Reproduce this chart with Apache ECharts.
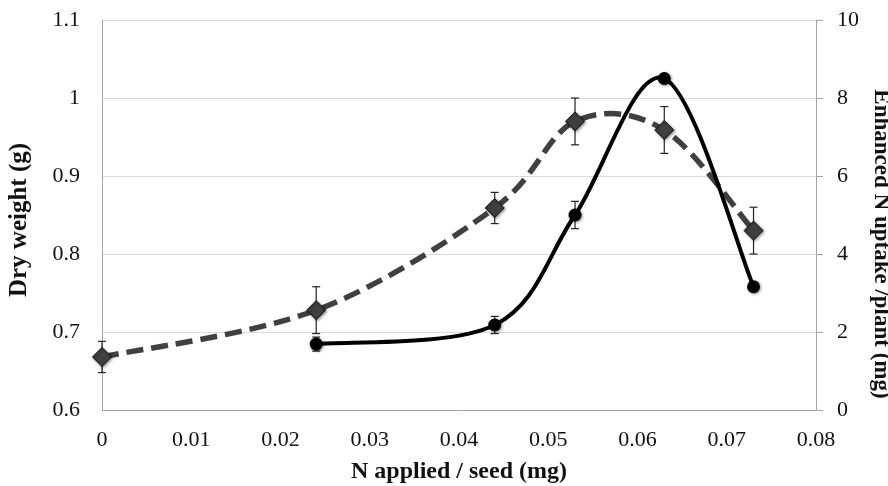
<!DOCTYPE html>
<html>
<head>
<meta charset="utf-8">
<script src="https://cdn.jsdelivr.net/npm/echarts@6/dist/echarts.min.js"></script>
<style>
  html, body { margin: 0; padding: 0; background: #fff; }
  #chart { width: 888px; height: 486px; }
</style>
</head>
<body>
<div id="chart"></div>
<script>
// N applied per seed (mg)
const nApplied = [0, 0.024, 0.044, 0.053, 0.063, 0.073];
// dry weight (g), left axis
const dryWeight = [0.668, 0.728, 0.859, 0.97, 0.959, 0.83];
const dryWeightErr = [0.02, 0.03, 0.02, 0.03, 0.03, 0.03];
// enhanced N uptake per plant (mg), right axis
const uptakeN = [0.024, 0.044, 0.053, 0.063, 0.073];
const uptake = [1.69, 2.18, 5.0, 8.5, 3.16];
const uptakeErr = [0.18, 0.22, 0.35, 0.08, 0];

const fontFam = '"Liberation Serif", "Times New Roman", serif';

function pairs(xs, ys) {
  return xs.map((x, i) => [x, ys[i]]);
}
function errData(xs, ys, es) {
  return xs.map((x, i) => [x, ys[i], es[i]]);
}

// vertical error bar with caps
function renderErr(params, api) {
  const x = api.value(0), y = api.value(1), e = api.value(2);
  if (!e) return;
  const top = api.coord([x, y + e]);
  const bot = api.coord([x, y - e]);
  const w = 4;
  const st = { stroke: '#222', lineWidth: 1.2 };
  return {
    type: 'group',
    children: [
      { type: 'line', shape: { x1: top[0], y1: top[1], x2: bot[0], y2: bot[1] }, style: st },
      { type: 'line', shape: { x1: top[0] - w, y1: top[1], x2: top[0] + w, y2: top[1] }, style: st },
      { type: 'line', shape: { x1: bot[0] - w, y1: bot[1], x2: bot[0] + w, y2: bot[1] }, style: st }
    ]
  };
}

// spreadsheet-style smoothed line (catmull-rom, may overshoot), drawn once for the whole series
function smoothCurve(xs, ys, lineStyle) {
  return function (params, api) {
    if (params.dataIndex !== 0) return;
    const p = xs.map((x, i) => api.coord([x, ys[i]]));
    let d = 'M' + p[0][0] + ' ' + p[0][1];
    for (let i = 0; i < p.length - 1; i++) {
      const p0 = p[Math.max(i - 1, 0)], p1 = p[i], p2 = p[i + 1], p3 = p[Math.min(i + 2, p.length - 1)];
      const c1x = p1[0] + (p2[0] - p0[0]) / 6, c1y = p1[1] + (p2[1] - p0[1]) / 6;
      const c2x = p2[0] - (p3[0] - p1[0]) / 6, c2y = p2[1] - (p3[1] - p1[1]) / 6;
      d += ' C' + c1x + ' ' + c1y + ' ' + c2x + ' ' + c2y + ' ' + p2[0] + ' ' + p2[1];
    }
    return {
      type: 'path',
      shape: { pathData: d },
      style: Object.assign({ fill: null }, lineStyle)
    };
  };
}

const axisLabelStyle = { color: '#111', fontFamily: fontFam, fontSize: 22 };
const nameStyle = { color: '#111', fontFamily: fontFam, fontWeight: 'bold' };

let option = {
  animation: false,
  backgroundColor: '#fff',
  grid: { left: 102, right: 72, top: 20, bottom: 76, outerBoundsMode: 'none' },
  xAxis: {
    type: 'value',
    min: 0,
    max: 0.08,
    interval: 0.01,
    name: 'N applied / seed (mg)',
    nameLocation: 'middle',
    nameGap: 50,
    nameTextStyle: Object.assign({ fontSize: 24 }, nameStyle),
    axisLine: { lineStyle: { color: '#a6a6a6', width: 1 } },
    axisTick: { show: false },
    splitLine: { show: false },
    axisLabel: Object.assign({ margin: 19 }, axisLabelStyle)
  },
  yAxis: [
    {
      type: 'value',
      min: 0.6,
      max: 1.1,
      interval: 0.1,
      name: 'Dry weight (g)',
      nameLocation: 'middle',
      nameGap: 70,
      nameTextStyle: Object.assign({ fontSize: 25, padding: [0, 10, 0, 0] }, nameStyle),
      axisLine: { show: true, lineStyle: { color: '#a6a6a6', width: 1 } },
      axisTick: { show: false },
      splitLine: { lineStyle: { color: '#d9d9d9', width: 1 } },
      axisLabel: Object.assign({ margin: 22 }, axisLabelStyle)
    },
    {
      type: 'value',
      position: 'right',
      min: 0,
      max: 10,
      interval: 2,
      name: 'Enhanced N uptake /plant (mg)',
      nameLocation: 'middle',
      nameGap: 52,
      nameRotate: -90,
      nameTextStyle: Object.assign({ fontSize: 23, padding: [0, 0, 0, 58] }, nameStyle),
      axisLine: { show: true, lineStyle: { color: '#a6a6a6', width: 1 } },
      axisTick: { show: true, length: 7, lineStyle: { color: '#a6a6a6' } },
      splitLine: { show: false },
      axisLabel: Object.assign({ margin: 21 }, axisLabelStyle)
    }
  ],
  series: [
    {
      name: 'Dry weight line',
      type: 'custom',
      yAxisIndex: 0,
      renderItem: smoothCurve(nApplied, dryWeight, {
        stroke: '#404040', lineWidth: 5.5, lineDash: [17, 8], lineCap: 'butt'
      }),
      encode: { x: 0, y: 1 },
      data: pairs(nApplied, dryWeight),
      z: 1
    },
    {
      name: 'dry weight error',
      type: 'custom',
      yAxisIndex: 0,
      renderItem: renderErr,
      encode: { x: 0, y: [1] },
      data: errData(nApplied, dryWeight, dryWeightErr),
      z: 2
    },
    {
      name: 'Dry weight',
      type: 'scatter',
      yAxisIndex: 0,
      data: pairs(nApplied, dryWeight),
      symbol: 'diamond',
      symbolSize: [19, 19],
      itemStyle: {
        color: '#3f3f3f',
        borderColor: '#111',
        borderWidth: 1,
        opacity: 1,
        shadowBlur: 3,
        shadowColor: 'rgba(0,0,0,0.45)',
        shadowOffsetX: 1,
        shadowOffsetY: 1
      },
      z: 3
    },
    {
      name: 'Uptake line',
      type: 'custom',
      yAxisIndex: 1,
      renderItem: smoothCurve(uptakeN, uptake, { stroke: '#000', lineWidth: 4 }),
      encode: { x: 0, y: 1 },
      data: pairs(uptakeN, uptake),
      z: 4
    },
    {
      name: 'uptake error',
      type: 'custom',
      yAxisIndex: 1,
      renderItem: renderErr,
      encode: { x: 0, y: [1] },
      data: errData(uptakeN, uptake, uptakeErr),
      z: 5
    },
    {
      name: 'Enhanced N uptake',
      type: 'scatter',
      yAxisIndex: 1,
      data: pairs(uptakeN, uptake),
      symbol: 'circle',
      symbolSize: 13,
      itemStyle: {
        color: '#000',
        opacity: 1,
        shadowBlur: 3,
        shadowColor: 'rgba(0,0,0,0.45)',
        shadowOffsetX: 1,
        shadowOffsetY: 1
      },
      z: 6
    }
  ]
};

var myChart = echarts.init(document.getElementById('chart'));
myChart.setOption(option);
</script>
</body>
</html>
